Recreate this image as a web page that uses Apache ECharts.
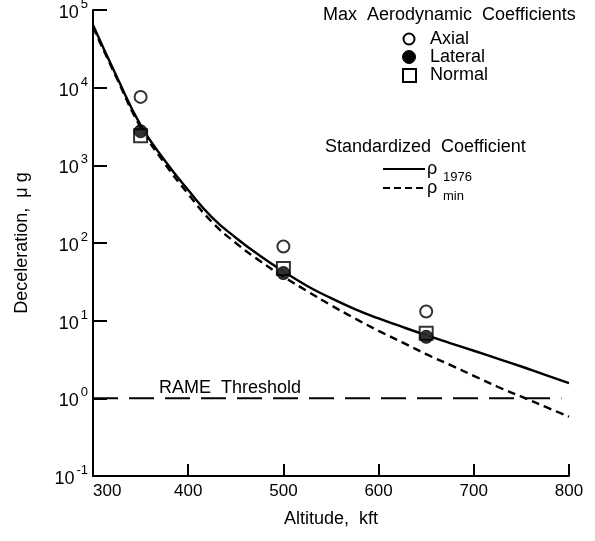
<!DOCTYPE html>
<html>
<head>
<meta charset="utf-8">
<script src="https://cdn.jsdelivr.net/npm/echarts@6/dist/echarts.min.js"></script>
<style>html,body{margin:0;padding:0;background:#fff;}#c{width:595px;height:541px;}</style>
</head>
<body>
<div id="c"></div>
<script>
// Altitude (kft) / deceleration (micro-g) data
const axialData   = [[350, 7600], [500, 90], [650, 13.1]];
const lateralData = [[350, 2750], [500, 41], [650, 6.2]];
const normalData  = [[350, 2400], [500, 47], [650, 6.9]];

const curveAlt   = [300, 325, 350, 375, 400, 425, 450, 475, 500, 525, 550, 575, 600, 625, 650, 675, 700, 725, 750, 775, 800];
const rho1976Val = [64000, 13800, 3300, 1170, 480, 214, 117, 69, 43, 28, 19.5, 14.1, 10.7, 8.3, 6.5, 5.15, 4.1, 3.25, 2.57, 2.0, 1.57];
const rhoMinVal  = [60000, 13200, 3090, 1070, 427, 186, 100, 59, 37, 24, 15.8, 10.7, 7.4, 5.25, 3.7, 2.7, 1.95, 1.41, 1.05, 0.78, 0.58];

const thresholdAlt = [300, 792];
const thresholdVal = [1, 1];

const xTicks = [300, 400, 500, 600, 700, 800];

const FONT = '"Liberation Sans", Arial, Helvetica, sans-serif';
const zip = (a, b) => a.map((v, i) => [v, b[i]]);

const chart = echarts.init(document.getElementById('c'));
chart.setOption({
  animation: false,
  backgroundColor: '#fff',
  grid: { left: 93, right: 26, top: 10, bottom: 65, outerBoundsMode: 'none' },
  xAxis: {
    type: 'value', min: xTicks[0], max: xTicks[xTicks.length - 1], interval: 100,
    axisLine: { lineStyle: { color: '#000', width: 2 } },
    axisTick: { inside: true, length: 12, lineStyle: { color: '#000', width: 2 } },
    axisLabel: { color: '#000', fontSize: 17, fontFamily: FONT, margin: 7, alignMinLabel: 'left' },
    splitLine: { show: false }
  },
  yAxis: {
    type: 'log', logBase: 10, min: 0.1, max: 100000,
    axisLine: { lineStyle: { color: '#000', width: 2 } },
    axisTick: { inside: true, length: 14, lineStyle: { color: '#000', width: 2 } },
    axisLabel: {
      margin: 5,
      formatter: v => '{b|10}{s|' + Math.round(Math.log10(v)) + '}',
      rich: {
        b: { fontSize: 18, fontFamily: FONT, color: '#000', lineHeight: 24, verticalAlign: 'bottom' },
        s: { fontSize: 13, fontFamily: FONT, color: '#000', lineHeight: 24, verticalAlign: 'top', padding: [0, 0, 0, 2] }
      }
    },
    splitLine: { show: false },
    minorTick: { show: false }
  },
  series: [
    { type: 'line', data: zip(curveAlt, rho1976Val), smooth: 0.5, showSymbol: false,
      lineStyle: { color: '#000', width: 2.4 }, z: 3 },
    { type: 'line', data: zip(curveAlt, rhoMinVal), smooth: 0.5, showSymbol: false,
      lineStyle: { color: '#000', width: 2.4, type: [8, 5] }, z: 3 },
    { type: 'line', data: zip(thresholdAlt, thresholdVal), showSymbol: false,
      lineStyle: { color: '#000', width: 2, type: [25, 11] }, z: 2 },
    { type: 'scatter', data: axialData, symbol: 'circle', symbolSize: 12,
      itemStyle: { color: '#fff', borderColor: '#000', borderWidth: 2 }, z: 5 },
    { type: 'scatter', data: normalData, symbol: 'rect', symbolSize: 13,
      itemStyle: { color: '#fff', borderColor: '#000', borderWidth: 2 }, z: 5 },
    { type: 'scatter', data: lateralData, symbol: 'circle', symbolSize: 13,
      itemStyle: { color: '#000', borderColor: '#000', borderWidth: 1 }, z: 6 }
  ],
  graphic: [
    { type: 'text', left: 323, top: 6, style: { text: 'Max  Aerodynamic  Coefficients', font: '18px ' + FONT, fill: '#000' } },
    { type: 'circle', shape: { cx: 409, cy: 39, r: 5.5 }, style: { fill: '#fff', stroke: '#000', lineWidth: 2 } },
    { type: 'text', left: 430, top: 30, style: { text: 'Axial', font: '18px ' + FONT, fill: '#000' } },
    { type: 'circle', shape: { cx: 409, cy: 57, r: 6.5 }, style: { fill: '#000', stroke: '#000', lineWidth: 1 } },
    { type: 'text', left: 430, top: 48, style: { text: 'Lateral', font: '18px ' + FONT, fill: '#000' } },
    { type: 'rect', shape: { x: 403, y: 69, width: 13, height: 13 }, style: { fill: '#fff', stroke: '#000', lineWidth: 2 } },
    { type: 'text', left: 430, top: 66, style: { text: 'Normal', font: '18px ' + FONT, fill: '#000' } },

    { type: 'text', left: 325, top: 138, style: { text: 'Standardized  Coefficient', font: '18px ' + FONT, fill: '#000' } },
    { type: 'line', shape: { x1: 383, y1: 169, x2: 425, y2: 169 }, style: { stroke: '#000', lineWidth: 2 } },
    { type: 'text', left: 427, top: 160, style: { text: 'ρ', font: '18px ' + FONT, fill: '#000' } },
    { type: 'text', left: 443, top: 171, style: { text: '1976', font: '13px ' + FONT, fill: '#000' } },
    { type: 'line', shape: { x1: 383, y1: 188, x2: 425, y2: 188 }, style: { stroke: '#000', lineWidth: 2, lineDash: [7, 4] } },
    { type: 'text', left: 427, top: 179, style: { text: 'ρ', font: '18px ' + FONT, fill: '#000' } },
    { type: 'text', left: 443, top: 190, style: { text: 'min', font: '13px ' + FONT, fill: '#000' } },

    { type: 'text', left: 159, top: 379, style: { text: 'RAME  Threshold', font: '18px ' + FONT, fill: '#000' } },

    { type: 'text', x: 22, y: 243, rotation: Math.PI / 2, style: { text: 'Deceleration,  μ g', font: '18px ' + FONT, fill: '#000', align: 'center', verticalAlign: 'middle' } },
    { type: 'text', x: 331, y: 519, style: { text: 'Altitude,  kft', font: '18px ' + FONT, fill: '#000', align: 'center', verticalAlign: 'middle' } }
  ]
});
</script>
</body>
</html>
